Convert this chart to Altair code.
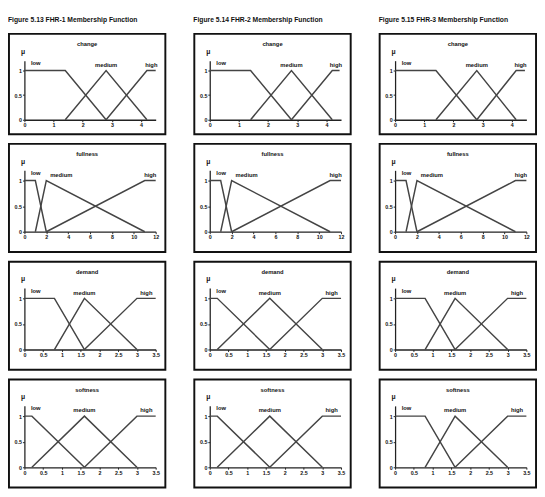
import altair as alt
import pandas as pd

figure_titles = [
    "Figure 5.13 FHR-1 Membership Function",
    "Figure 5.14 FHR-2 Membership Function",
    "Figure 5.15 FHR-3 Membership Function",
]
panel_titles = ["change", "fullness", "demand", "softness"]
set_names = ["low", "medium", "high"]

row_ticks = [
    [0, 1, 2, 3, 4],
    [0, 2, 4, 6, 8, 10, 12],
    [0, 0.5, 1, 1.5, 2, 2.5, 3, 3.5],
    [0, 0.5, 1, 1.5, 2, 2.5, 3, 3.5],
]
row_xmax = [4.5, 12, 3.5, 3.5]
y_ticks = [0, 0.5, 1]

# breakpoints: [low flat end / medium start,
#  low end / medium peak / high start, medium end / high full, high end]
breaks = [
    [[1.4, 2.8, 4.2, 4.5], [1.4, 2.8, 4.2, 4.45], [1.4, 2.8, 4.15, 4.45]],
    [[1.0, 2.0, 11.0, 12.0], [1.0, 2.0, 11.0, 12.0], [1.0, 2.0, 11.0, 12.0]],
    [[0.8, 1.6, 3.0, 3.5], [0.2, 1.6, 3.0, 3.5], [0.8, 1.6, 3.0, 3.5]],
    [[0.2, 1.6, 3.0, 3.5], [0.2, 1.6, 3.0, 3.5], [0.8, 1.6, 3.0, 3.5]],
]

W = 162
ROW_H = [104, 112, 112, 112]
ROW_BOTTOM = [15, 21, 21, 21]
Y1 = 38
XR = [16, 152]
FONT = "Liberation Sans"


def panel(r, c):
    H = ROW_H[r]
    Y0 = H - ROW_BOTTOM[r]
    YTOP = Y0 - 1.2 * (Y0 - Y1)
    a, b, cc, d = breaks[r][c]
    verts = {
        "low": [(0, 1), (a, 1), (b, 0)],
        "medium": [(a, 0), (b, 1), (cc, 0)],
        "high": [(b, 0), (cc, 1), (d, 1)],
    }
    rows = []
    for s in set_names:
        for i, (x, y) in enumerate(verts[s]):
            rows.append({"set": s, "x": x, "y": y, "i": i})
    df = pd.DataFrame(rows)

    xmax = row_xmax[r]
    lab = pd.DataFrame({
        "set": set_names,
        "x": [0.05 * xmax, b, (cc + d) / 2],
        "y": [1.15, 1.11, 1.11],
    })

    xs = alt.Scale(domain=[0, xmax], range=XR, nice=False, zero=False)
    ys = alt.Scale(domain=[0, 1.2], range=[Y0, YTOP], nice=False, zero=False)
    xenc = alt.X("x:Q", scale=xs, axis=alt.Axis(
        values=row_ticks[r], offset=-(H - Y0), title=None, format="~g",
        grid=False, labelFlush=False))
    yenc = alt.Y("y:Q", scale=ys, axis=alt.Axis(
        values=y_ticks, offset=-XR[0], title="μ", titleAngle=0, titleX=-2,
        titleY=21, titleAlign="center", titleBaseline="bottom",
        titleFontSize=7, titleFont=FONT, titleColor="#111", format="~g",
        grid=False, labelFlush=False))

    lines = alt.Chart(df).mark_line(color="#444444", strokeWidth=1.5).encode(
        x=xenc, y=yenc, detail="set:N", order="i:O")

    base_lab = alt.Chart(lab).encode(x=xenc, y=yenc, text="set:N")
    low_t = base_lab.transform_filter(alt.datum.set == "low").mark_text(
        align="left", font=FONT, fontSize=6, fontWeight="bold", color="#111")
    if r == 1:
        med_t = base_lab.transform_filter(alt.datum.set == "medium").mark_text(
            align="left", dx=4, font=FONT, fontSize=6, fontWeight="bold", color="#111")
    else:
        med_t = base_lab.transform_filter(alt.datum.set == "medium").mark_text(
            align="center", font=FONT, fontSize=6, fontWeight="bold", color="#111")
    high_t = base_lab.transform_filter(alt.datum.set == "high").mark_text(
        align="center", font=FONT, fontSize=6, fontWeight="bold", color="#111")

    ttl = alt.Chart(pd.DataFrame({"t": [panel_titles[r]]})).mark_text(
        font=FONT, fontSize=6, fontWeight="bold", color="#111").encode(
        x=alt.value(W / 2), y=alt.value(11), text="t:N")

    return alt.layer(lines, low_t, med_t, high_t, ttl).properties(width=W, height=H)


cols = []
for c in range(3):
    cols.append(alt.vconcat(
        *[panel(r, c) for r in range(4)], spacing=8,
        title=alt.TitleParams(figure_titles[c], anchor="start", fontSize=7,
                              font=FONT, fontWeight="bold", offset=10,
                              color="#111")))

chart = alt.hconcat(*cols, spacing=28).properties(
    padding={"left": 0, "top": 0, "right": 0, "bottom": 0}
).configure_view(stroke="#111", strokeWidth=2).configure_axis(
    labelFontSize=5.5, labelFont=FONT, labelColor="#111", labelFontWeight="bold",
    labelPadding=1, domainColor="#222", domainWidth=1.3, tickColor="#222",
    tickSize=2,
)

chart.save("out.html", embed_options={"renderer": "svg", "actions": False})
